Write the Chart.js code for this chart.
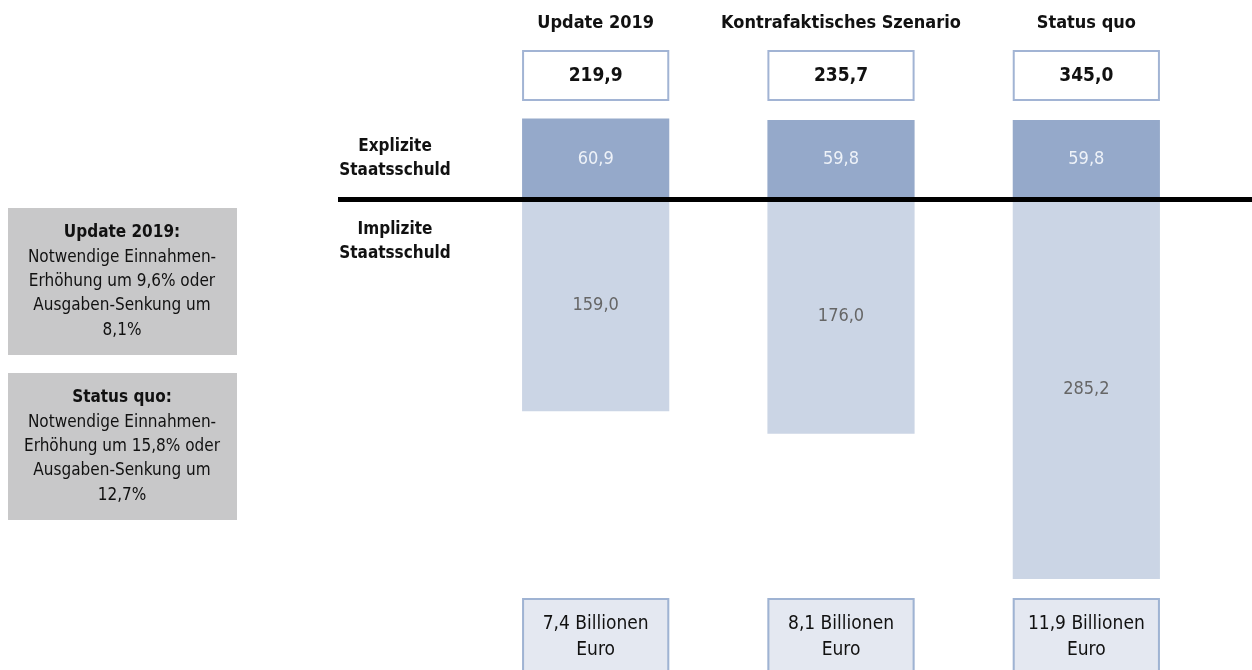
<!DOCTYPE html>
<html>
<head>
<meta charset="utf-8">
<script src="https://cdn.jsdelivr.net/npm/chart.js@4/dist/chart.umd.min.js"></script>
<style>
  html, body { margin: 0; padding: 0; background: #fff; }
  #wrap { width: 1252px; height: 670px; position: relative; }
</style>
</head>
<body>
<div id="wrap"><canvas id="myChart" width="1252" height="670"></canvas></div>
<script>
var kategorien = ['Update 2019', 'Kontrafaktisches Szenario', 'Status quo'];
var explizit = [60.9, 59.8, 59.8];
var implizit = [159.0, 176.0, 285.2];
var gesamt = [219.9, 235.7, 345.0];
var billionen = ['7,4 Billionen', '8,1 Billionen', '11,9 Billionen'];
var zeilen = [['Explizite', 'Staatsschuld'], ['Implizite', 'Staatsschuld']];
var hinweise = [
    ['Update 2019:', 'Notwendige Einnahmen-', 'Erhöhung um 9,6% oder', 'Ausgaben-Senkung um', '8,1%'],
    ['Status quo:', 'Notwendige Einnahmen-', 'Erhöhung um 15,8% oder', 'Ausgaben-Senkung um', '12,7%']
];

var FONT = '"Liberation Sans Narrow", "DejaVu Sans Condensed", "Liberation Sans", sans-serif';

function fmt(v){
    return v.toFixed(1).replace('.', ',');
}

var zeichnen = {
    id: 'zeichnen',
    afterDraw: function(chart){
        var ctx = chart.ctx;
        var y = chart.scales.y;
        var metaEx = chart.getDatasetMeta(0);
        var metaIm = chart.getDatasetMeta(1);
        var null0 = y.getPixelForValue(0);

        ctx.save();
        ctx.textAlign = 'center';
        ctx.textBaseline = 'middle';

        for(var i = 0; i < kategorien.length; i++){
            var barEx = metaEx.data[i];
            var barIm = metaIm.data[i];
            var links = barEx.x - barEx.width / 2;
            var breite = barEx.width;

            // Kopf
            ctx.fillStyle = '#111';
            ctx.font = 'bold 18px ' + FONT;
            ctx.fillText(kategorien[i], barEx.x, 23);

            // Summenbox oben
            ctx.fillStyle = '#fff';
            ctx.fillRect(links, 50, breite, 51);
            ctx.strokeStyle = '#a2b4d4';
            ctx.lineWidth = 2;
            ctx.strokeRect(links + 1, 51, breite - 2, 49);
            ctx.fillStyle = '#111';
            ctx.font = 'bold 19px ' + FONT;
            ctx.fillText(fmt(gesamt[i]), barEx.x, 76);

            // Werte in den Balken
            ctx.font = '18px ' + FONT;
            ctx.fillStyle = '#eef2f8';
            ctx.fillText(fmt(explizit[i]), barEx.x, (barEx.y + barEx.base) / 2);
            ctx.fillStyle = '#666';
            ctx.fillText(fmt(implizit[i]), barIm.x, (barIm.y + barIm.base) / 2);

            // Box unten
            ctx.fillStyle = '#e4e8f1';
            ctx.fillRect(links, 598, breite, 80);
            ctx.strokeStyle = '#9fb3d3';
            ctx.strokeRect(links + 1, 599, breite - 2, 80);
            ctx.fillStyle = '#111';
            ctx.font = '19px ' + FONT;
            ctx.fillText(billionen[i], barEx.x, 624);
            ctx.fillText('Euro', barEx.x, 650);
        }

        // Nulllinie
        ctx.strokeStyle = '#000';
        ctx.lineWidth = 5;
        ctx.beginPath();
        ctx.moveTo(338, null0);
        ctx.lineTo(1252, null0);
        ctx.stroke();

        // Zeilenbeschriftungen
        ctx.fillStyle = '#111';
        ctx.font = 'bold 17px ' + FONT;
        ctx.fillText(zeilen[0][0], 395, 147);
        ctx.fillText(zeilen[0][1], 395, 171);
        ctx.fillText(zeilen[1][0], 395, 230);
        ctx.fillText(zeilen[1][1], 395, 254);

        // graue Hinweisboxen
        var boxTop = [208, 373];
        for(var b = 0; b < hinweise.length; b++){
            ctx.fillStyle = '#c8c8c9';
            ctx.fillRect(8, boxTop[b], 229, 147);
            for(var z = 0; z < hinweise[b].length; z++){
                ctx.fillStyle = '#111';
                ctx.font = (z == 0 ? 'bold ' : '') + '17px ' + FONT;
                ctx.fillText(hinweise[b][z], 122, boxTop[b] + 25 + z * 24.3);
            }
        }
        ctx.restore();
    }
};

var ctx = document.getElementById('myChart');
var myChart = new Chart(ctx, {
    type: 'bar',
    data: {
        labels: kategorien,
        datasets: [{
            label: 'Explizite Staatsschuld',
            data: explizit,
            backgroundColor: '#95a9ca',
            borderWidth: 0
        }, {
            label: 'Implizite Staatsschuld',
            data: implizit.map(function(v){ return -v; }),
            backgroundColor: '#cbd5e5',
            borderWidth: 0
        }]
    },
    options: {
        responsive: false,
        animation: false,
        layout: { padding: { left: 473, right: 43, top: 0, bottom: 0 } },
        plugins: {
            legend: { display: false },
            tooltip: { enabled: false }
        },
        scales: {
            x: {
                display: false,
                stacked: true,
                offset: true
            },
            y: {
                display: false,
                stacked: true,
                min: -353.5,
                max: 150
            }
        },
        datasets: {
            bar: { barPercentage: 0.6, categoryPercentage: 1.0 }
        }
    },
    plugins: [zeichnen]
});
</script>
</body>
</html>
